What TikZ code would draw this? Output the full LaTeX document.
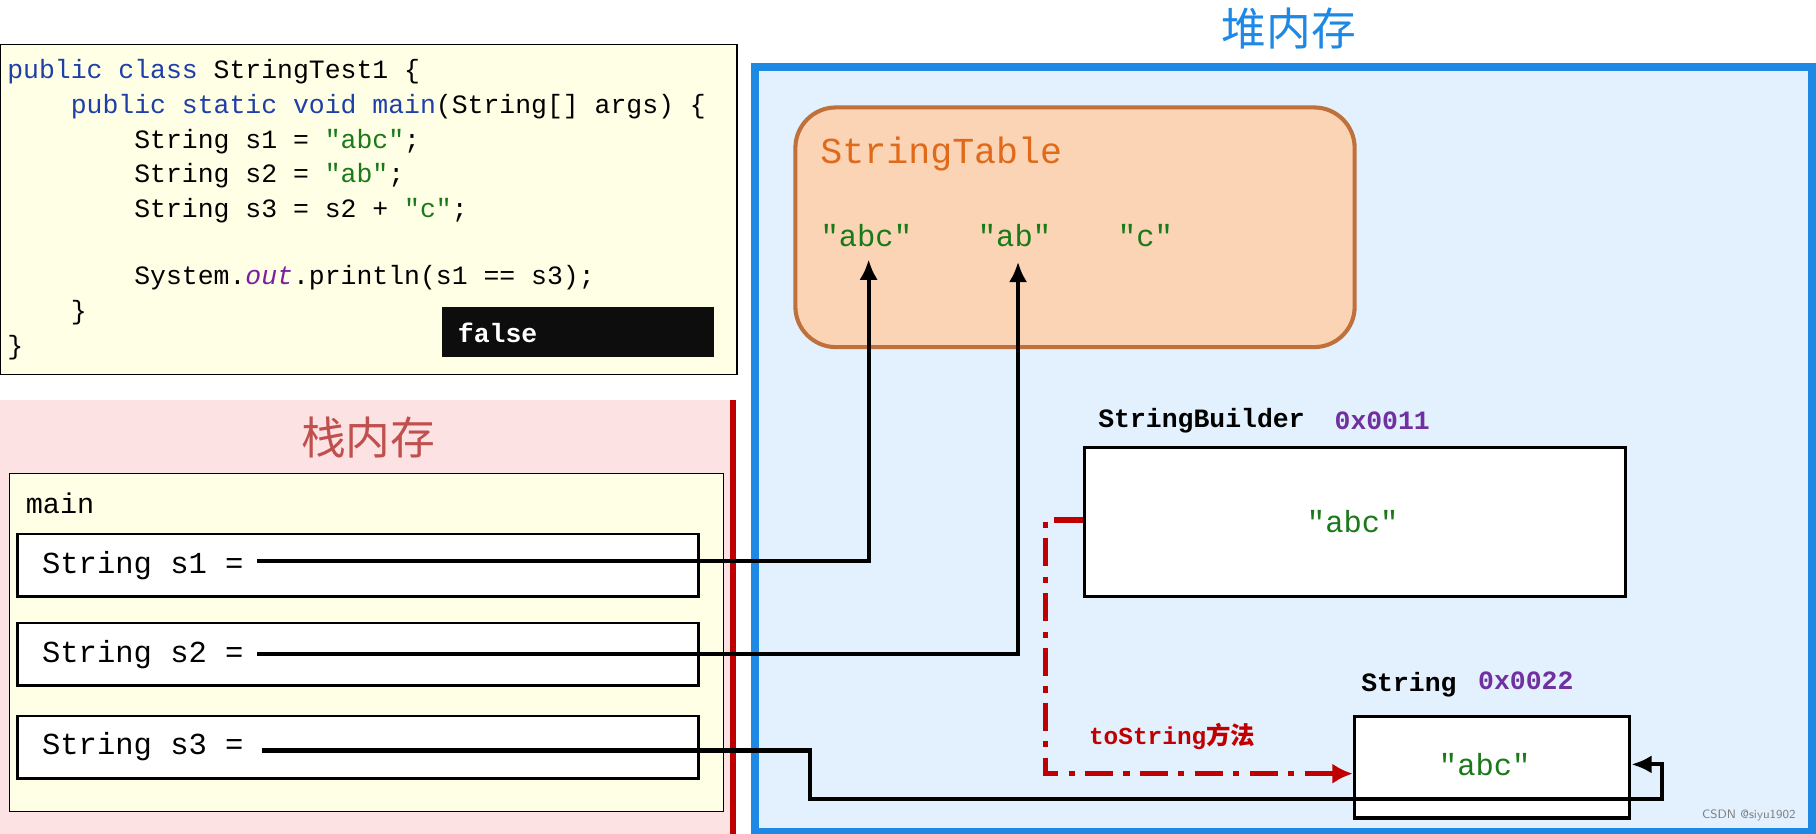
\documentclass[tikz,border=0pt]{standalone}
\usepackage{fontspec}
\setmonofont{Liberation Mono}
\newfontfamily\cjk{Noto Sans CJK SC}
\usetikzlibrary{arrows.meta}
\definecolor{codebg}{HTML}{FFFFE6}
\definecolor{kw}{HTML}{1F3FA8}
\definecolor{str}{HTML}{1A7A1A}
\definecolor{purp}{HTML}{7A1FA2}
\definecolor{stackbg}{HTML}{FDE2E4}
\definecolor{stackred}{HTML}{C00000}
\definecolor{stacktitle}{HTML}{C0504D}
\definecolor{heapbg}{HTML}{E3F0FD}
\definecolor{heapblue}{HTML}{1E88E5}
\definecolor{tablebg}{HTML}{FAD4B4}
\definecolor{tablebd}{HTML}{C0703A}
\definecolor{orng}{HTML}{E06A1A}
\definecolor{addr}{HTML}{7030A0}
\begin{document}
\begin{tikzpicture}[x=0.02cm,y=-0.02cm,
  code/.style={anchor=west,inner sep=0pt,font=\ttfamily\fontsize{13}{15}\selectfont},
  var/.style={draw,line width=1.2pt,fill=white,minimum height=1.08cm},
  mono/.style={inner sep=0pt,font=\ttfamily\fontsize{15}{17}\selectfont},
  lbl/.style={inner sep=0pt,anchor=west,font=\ttfamily\bfseries\fontsize{13}{15}\selectfont},
  conn/.style={line width=2pt,-{Latex[length=10pt,width=9pt]}}]
\useasboundingbox (0,0) rectangle (1568,720);
% code
\node[draw,fill=codebg,minimum width=12.72cm,minimum height=5.7cm,anchor=north west,line width=0.6pt] (codebox) at (0,38) {};
\node[code] (c1) at (6,62) {{\color{kw}public class} StringTest1 \{};
\node[code] (c2) at (6,92) {\phantom{xxxx}{\color{kw}public static void main}(String[] args) \{};
\node[code] (c3) at (6,122) {\phantom{xxxxxxxx}String s1 = {\color{str}"abc"};};
\node[code] (c4) at (6,152) {\phantom{xxxxxxxx}String s2 = {\color{str}"ab"};};
\node[code] (c5) at (6,182) {\phantom{xxxxxxxx}String s3 = s2 + {\color{str}"c"};};
\node[code] (c6) at (6,240) {\phantom{xxxxxxxx}System.\textit{\color{purp}out}.println(s1 == s3);};
\node[code] (c7) at (6,270) {\phantom{xxxx}\}};
\node[code] (c8) at (6,300) {\}};
\node[fill=black!95,minimum width=4.7cm,minimum height=0.86cm,anchor=north west,inner sep=0pt] (falsebox) at (381,265) {};
\node[code,text=white,font=\ttfamily\bfseries\fontsize{13}{15}\selectfont] (false) at (395,287) {false};
% stack
\fill[stackbg] (0,345) rectangle (633,720);
\draw[stackred,line width=3pt] (633,345) -- (633,720);
\node[text=stacktitle,font=\cjk\fontsize{22}{26}\selectfont] (stk) at (318,378) {栈内存};
\node[draw,fill=codebg,line width=0.6pt,minimum width=12.32cm,minimum height=5.84cm,anchor=north west] (main) at (8,408) {};
\node[code,font=\ttfamily\fontsize{14}{16}\selectfont] (mainl) at (22,435) {main};
\node[var,minimum width=11.76cm,anchor=north west] (b1) at (14,460) {};
\node[var,minimum width=11.76cm,anchor=north west] (b2) at (14,537) {};
\node[var,minimum width=11.76cm,anchor=north west] (b3) at (14,617) {};
\node[mono,anchor=west] (s1) at (36,488) {String s1 =};
\node[mono,anchor=west] (s2) at (36,565) {String s2 =};
\node[mono,anchor=west] (s3) at (36,645) {String s3 =};
% heap
\draw[heapblue,fill=heapbg,line width=4pt] (652,58) rectangle (1565,718);
\node[text=heapblue,font=\cjk\fontsize{22}{26}\selectfont] (heap) at (1113,25) {堆内存};
\node[draw=tablebd,fill=tablebg,line width=2pt,rounded corners=0.7cm,minimum width=9.66cm,minimum height=4.14cm,anchor=north west] (table) at (685,91) {};
\node[mono,anchor=west,text=orng,font=\ttfamily\fontsize{18}{20}\selectfont] (tt) at (708,133) {StringTable};
\node[mono,text=str] (abc) at (748,203) {"abc"};
\node[mono,text=str] (ab) at (876,203) {"ab"};
\node[mono,text=str] (c) at (989,203) {"c"};
\node[lbl] (sbl) at (948,363) {StringBuilder};
\node[lbl,text=addr] (sba) at (1152,363) {0x0011};
\node[draw,fill=white,line width=1.5pt,minimum width=9.34cm,minimum height=2.58cm,anchor=north west] (sb) at (935,385) {};
\node[mono,text=str] (sbv) at (1168,450) {"abc"};
\node[lbl] (strl) at (1175,591) {String};
\node[lbl,text=addr] (stra) at (1276,588) {0x0022};
\node[draw,fill=white,line width=1.5pt,minimum width=4.76cm,minimum height=1.76cm,anchor=north west] (str) at (1168,617) {};
\node[mono,text=str] (strv) at (1282,660) {"abc"};
\node[lbl,text=stackred,font=\bfseries\ttfamily\fontsize{12}{14}\selectfont] (ts) at (940,636) {toString{\cjk 方法}};
\node[text=gray,font=\sffamily\fontsize{6}{7}\selectfont] (wm) at (1510,704) {CSDN @siyu1902};
% connectors
\coordinate (s1e) at (222,484);
\coordinate (s2e) at (222,565);
\coordinate (s3e) at (226,648);
\draw[conn] (s1e) -- (750,484) -- (750,224);
\draw[conn] (s2e) -- (879,565) -- (879,226);
\draw[conn] (s3e) -- (699,648) -- (699,690) -- (1435,690) -- (1435,660) -- (str.east |- 0,660);
\draw[stackred,line width=2.5pt,dash pattern=on 14pt off 5pt on 3pt off 5pt,-{Latex[length=10pt,width=10pt]}] (sb.west |- 0,449) -- (903,449) -- (903,668) -- (str.west |- 0,668);
\end{tikzpicture}
\end{document}
